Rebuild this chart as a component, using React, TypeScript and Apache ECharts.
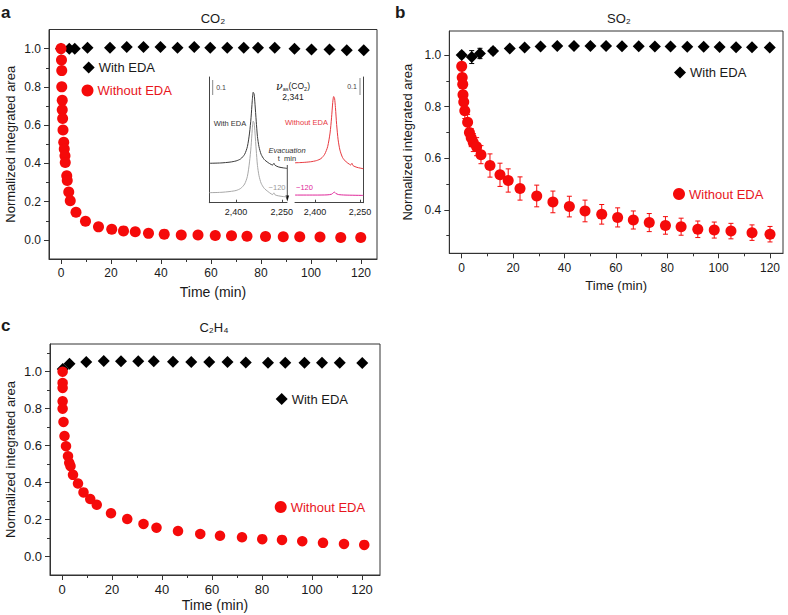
import React, { useEffect, useRef } from 'react';
import * as echarts from 'echarts';

const FONT = '"Liberation Sans", Arial, Helvetica, sans-serif';

// ---------- Panel a: CO2 ----------
const co2WithEDA: number[][] = [[0, 1.0], [3.3, 1.0], [5.5, 1.0], [10.6, 1.005], [19.6, 1.005], [26.3, 1.008], [33, 1.008], [39.8, 1.008], [46.6, 1.005], [53.3, 1.008], [59.7, 1.005], [66.5, 1.005], [73.1, 1.005], [78.8, 1.005], [85.5, 1.005], [93.4, 1.0], [100.2, 0.996], [107.4, 0.996], [114.3, 0.991], [121.1, 0.991]];
const co2WithoutEDA: number[][] = [[0, 1.0], [0.2, 0.94], [0.3, 0.885], [0.3, 0.8], [0.5, 0.73], [0.5, 0.68], [0.65, 0.635], [0.8, 0.575], [1.1, 0.51], [1.3, 0.475], [1.6, 0.44], [1.7, 0.405], [2.3, 0.335], [2.5, 0.31], [3.1, 0.25], [3.7, 0.205], [6, 0.145], [9.8, 0.097], [15, 0.068], [20.3, 0.055], [25, 0.047], [29.7, 0.042], [35, 0.034], [41.3, 0.03], [48.1, 0.026], [54.8, 0.025], [61.7, 0.023], [68.2, 0.021], [74.4, 0.019], [81.8, 0.018], [88.9, 0.016], [95.5, 0.016], [103.6, 0.015], [111.9, 0.013], [119.9, 0.013]];

// ---------- Panel b: SO2 ----------
const so2WithEDA: number[][] = [[0, 1.0], [3.9, 0.992], [7.1, 1.006], [12.2, 1.016], [18.7, 1.025], [24.5, 1.029], [30.7, 1.033], [37.2, 1.035], [43.7, 1.035], [50.1, 1.035], [56.2, 1.035], [62.4, 1.034], [68.9, 1.034], [75.2, 1.033], [81.3, 1.033], [87.8, 1.032], [94.2, 1.032], [100.4, 1.031], [106.8, 1.03], [113, 1.03], [119.9, 1.029]];
const so2WithEDAErr: number[] = [0.012, 0.025, 0.02, 0.012, 0.008, 0.006, 0.005, 0.005, 0.005, 0.005, 0.005, 0.005, 0.005, 0.005, 0.005, 0.005, 0.005, 0.005, 0.005, 0.005, 0.005];
const so2WithoutEDA: number[][] = [[0, 0.956], [0.2, 0.913], [0.4, 0.887], [0.5, 0.846], [0.8, 0.818], [1.2, 0.784], [2.3, 0.74], [3.0, 0.7], [3.7, 0.68], [4.5, 0.661], [5.8, 0.645], [7.5, 0.614], [11.0, 0.572], [14.9, 0.536], [18.1, 0.514], [22.7, 0.483], [29.2, 0.454], [35.5, 0.431], [41.9, 0.413], [48.0, 0.396], [54.5, 0.383], [60.7, 0.371], [66.8, 0.361], [73.0, 0.351], [79.3, 0.34], [85.4, 0.335], [91.9, 0.325], [98.3, 0.322], [104.8, 0.318], [113, 0.312], [120, 0.306]];
const so2WithoutEDAErr: number[] = [0.04, 0.03, 0.03, 0.03, 0.03, 0.03, 0.03, 0.03, 0.035, 0.035, 0.035, 0.035, 0.045, 0.045, 0.045, 0.045, 0.042, 0.042, 0.04, 0.042, 0.038, 0.037, 0.035, 0.035, 0.034, 0.033, 0.032, 0.031, 0.03, 0.03, 0.03];

// ---------- Panel c: C2H4 ----------
const c2h4WithEDA: number[][] = [[0.3, 1.015], [3.0, 1.043], [9.7, 1.052], [16.7, 1.058], [23.6, 1.056], [30.5, 1.056], [36.7, 1.056], [44.4, 1.054], [51.7, 1.052], [58.9, 1.052], [66.2, 1.052], [73.5, 1.05], [82.4, 1.049], [89.3, 1.049], [97.0, 1.049], [104.0, 1.049], [111.1, 1.048], [120.1, 1.047]];
const c2h4WithoutEDA: number[][] = [[0.25, 1.0], [0.25, 0.939], [0.25, 0.912], [0.25, 0.84], [0.25, 0.8], [0.6, 0.728], [1.0, 0.652], [1.6, 0.597], [2.4, 0.543], [2.9, 0.507], [3.4, 0.489], [4.4, 0.442], [6.4, 0.395], [8.6, 0.347], [11.3, 0.311], [13.9, 0.28], [19.6, 0.234], [26.1, 0.203], [32.6, 0.176], [37.8, 0.156], [46.4, 0.138], [55.3, 0.122], [63.2, 0.112], [72.0, 0.104], [80.1, 0.094], [88.0, 0.09], [96.1, 0.083], [104.4, 0.074], [112.8, 0.068], [120.9, 0.063]];

// ---------- Tick values ----------
const timeTicks: number[] = [0, 20, 40, 60, 80, 100, 120];
const timeMinorTicks: number[] = [10, 30, 50, 70, 90, 110];
const areaTicksAC: number[] = [0, 0.2, 0.4, 0.6, 0.8, 1.0];
const areaMinorA: number[] = [0.1, 0.3, 0.5, 0.7, 0.9];
const areaMinorC: number[] = [0.1, 0.3, 0.5, 0.7, 0.9, 1.1];
const areaTicksB: number[] = [0.4, 0.6, 0.8, 1.0];
const areaMinorB: number[] = [0.3, 0.5, 0.7, 0.9];
const insetTicks: number[] = [2400, 2250];

// ---------- Inset spectra (wavenumber, absorbance) ----------
const specWithEDA0: number[][] = [[2488, 0.232], [2450, 0.234], [2420, 0.239], [2400, 0.246], [2385, 0.258], [2372, 0.285], [2363, 0.33], [2356, 0.41], [2351, 0.5], [2347, 0.6], [2344, 0.65], [2341, 0.64], [2338, 0.58], [2334, 0.48], [2330, 0.39], [2325, 0.33], [2318, 0.285], [2308, 0.255], [2295, 0.236], [2285, 0.225], [2280, 0.222], [2276, 0.232], [2272, 0.22], [2260, 0.21], [2245, 0.205], [2233, 0.202]];
const specWithEDA120: number[][] = [[2488, 0.059], [2450, 0.061], [2420, 0.066], [2400, 0.072], [2385, 0.084], [2372, 0.11], [2363, 0.155], [2356, 0.24], [2351, 0.33], [2347, 0.43], [2344, 0.48], [2341, 0.47], [2338, 0.41], [2334, 0.31], [2330, 0.22], [2325, 0.16], [2318, 0.115], [2308, 0.085], [2295, 0.065], [2285, 0.052], [2280, 0.048], [2276, 0.058], [2272, 0.046], [2260, 0.04], [2245, 0.036], [2233, 0.034]];
const specWithoutEDA0: number[][] = [[2467, 0.235], [2440, 0.237], [2415, 0.241], [2395, 0.248], [2380, 0.26], [2368, 0.285], [2358, 0.33], [2350, 0.41], [2345, 0.5], [2341, 0.59], [2338, 0.625], [2335, 0.615], [2332, 0.56], [2328, 0.46], [2323, 0.37], [2317, 0.31], [2308, 0.265], [2296, 0.24], [2285, 0.226], [2281, 0.222], [2277, 0.232], [2273, 0.218], [2260, 0.208], [2250, 0.204], [2239, 0.2]];
const specWithoutEDA120: number[][] = [[2467, 0.045], [2400, 0.045], [2360, 0.046], [2345, 0.05], [2338, 0.06], [2335, 0.062], [2331, 0.055], [2322, 0.048], [2300, 0.045], [2239, 0.043]];

const AXIS_COLOR = '#333';
const RED = '#f50a0a';
const RED_TEXT = '#e8161d';

function mainX(gi: number, min: number, max: number, fs: number, nameFs: number, nameGap: number, margin: number) {
  return [
    {
      type: 'value', gridIndex: gi, position: 'bottom', min, max,
      axisLine: { show: true, onZero: false, lineStyle: { color: AXIS_COLOR, width: 1 } },
      axisTick: { show: true, customValues: timeTicks, length: 5, lineStyle: { color: AXIS_COLOR } },
      axisLabel: { customValues: timeTicks, fontSize: fs, color: '#1a1a1a', fontFamily: FONT, margin },
      splitLine: { show: false },
      name: 'Time (min)', nameLocation: 'middle', nameGap,
      nameTextStyle: { fontSize: nameFs, color: '#1a1a1a', fontFamily: FONT, fontWeight: 'normal' },
    },
    {
      type: 'value', gridIndex: gi, position: 'bottom', min, max,
      axisLine: { show: false, onZero: false },
      axisTick: { show: true, customValues: timeMinorTicks, length: 3, lineStyle: { color: AXIS_COLOR } },
      axisLabel: { show: false },
      splitLine: { show: false },
    },
  ];
}

function mainY(gi: number, min: number, max: number, major: number[], minor: number[], fs: number, nameGap: number) {
  return [
    {
      type: 'value', gridIndex: gi, position: 'left', min, max,
      axisLine: { show: true, onZero: false, lineStyle: { color: AXIS_COLOR, width: 1 } },
      axisTick: { show: true, customValues: major, length: 5, lineStyle: { color: AXIS_COLOR } },
      axisLabel: { customValues: major, fontSize: fs, color: '#1a1a1a', fontFamily: FONT, margin: 8, formatter: (v: number) => v.toFixed(1) },
      splitLine: { show: false },
      name: 'Normalized integrated area', nameLocation: 'middle', nameGap,
      nameTextStyle: { fontSize: 13, color: '#1a1a1a', fontFamily: FONT, fontWeight: 'normal' },
    },
    {
      type: 'value', gridIndex: gi, position: 'left', min, max,
      axisLine: { show: false, onZero: false },
      axisTick: { show: true, customValues: minor, length: 3, lineStyle: { color: AXIS_COLOR } },
      axisLabel: { show: false },
      splitLine: { show: false },
    },
  ];
}

function insetX(gi: number, min: number, max: number) {
  return {
    type: 'value', gridIndex: gi, position: 'bottom', inverse: true, min, max,
    axisLine: { show: true, onZero: false, lineStyle: { color: '#444', width: 1 } },
    axisTick: { show: true, customValues: insetTicks, inside: true, length: 3, lineStyle: { color: '#444' } },
    axisLabel: { customValues: insetTicks, fontSize: 9, color: '#1a1a1a', fontFamily: FONT, margin: 5, formatter: (v: number) => v.toLocaleString('en-US') },
    splitLine: { show: false },
  };
}

function insetY(gi: number, pos: string) {
  return {
    type: 'value', gridIndex: gi, position: pos, min: 0, max: 0.74,
    axisLine: { show: true, onZero: false, lineStyle: { color: '#444', width: 1 } },
    axisTick: { show: false }, axisLabel: { show: false }, splitLine: { show: false },
  };
}

function errorRender(color: string) {
  return (params: any, api: any) => {
    const x = api.value(0);
    const lo = api.value(1);
    const hi = api.value(2);
    const top = api.coord([x, hi]);
    const bot = api.coord([x, lo]);
    const cap = 2.5;
    const st = { stroke: color, lineWidth: 1 };
    return {
      type: 'group',
      children: [
        { type: 'line', shape: { x1: top[0], y1: top[1], x2: bot[0], y2: bot[1] }, style: st },
        { type: 'line', shape: { x1: top[0] - cap, y1: top[1], x2: top[0] + cap, y2: top[1] }, style: st },
        { type: 'line', shape: { x1: bot[0] - cap, y1: bot[1], x2: bot[0] + cap, y2: bot[1] }, style: st },
      ],
    };
  };
}

function txt(x: number, y: number, text: string, o: any = {}) {
  return {
    type: 'text', x, y, silent: true, z: 100,
    style: {
      text, fill: o.fill || '#1a1a1a', fontSize: o.size || 13, fontFamily: o.family || FONT,
      fontWeight: o.weight || 'normal', fontStyle: o.style || 'normal',
      align: o.align || 'center', verticalAlign: 'middle',
    },
  };
}

function legendAt(name: string, icon: string, left: number, top: number, color: string) {
  return {
    data: [{ name, icon }], left, top, padding: 0, itemWidth: 12, itemHeight: 12, itemGap: 0,
    selectedMode: false, orient: 'horizontal',
    itemStyle: { opacity: 1 },
    textStyle: { fontSize: 13, color, fontFamily: FONT, padding: [0, 0, 0, -1] },
  };
}

const dot = (color: string) => ({ color, opacity: 1 });

export default function App() {
  const ref = useRef<HTMLDivElement>(null);
  useEffect(() => {
    if (!ref.current) return;
    const chart = echarts.init(ref.current, null, { renderer: 'svg' });
    const errB = (pts: number[][], err: number[]) => pts.map((p, i) => [p[0], p[1] - err[i], p[1] + err[i]]);

    const option: any = {
      animation: false,
      backgroundColor: '#fff',
      textStyle: { fontFamily: FONT },
      grid: [
        { left: 49, top: 29.5, width: 328, height: 229.5, show: true, borderColor: AXIS_COLOR, borderWidth: 1 },
        { left: 449.3, top: 31, width: 333.7, height: 222.3, show: true, borderColor: AXIS_COLOR, borderWidth: 1 },
        { left: 50, top: 344, width: 330, height: 231, show: true, borderColor: AXIS_COLOR, borderWidth: 1 },
        { left: 209.3, top: 77, width: 77.7, height: 125.7 },
        { left: 295, top: 77, width: 68.3, height: 125.7 },
      ],
      xAxis: [
        ...mainX(0, -4.8, 126.4, 12, 14, 26, 8),
        ...mainX(1, -4.83, 125.06, 12, 13, 26, 9),
        ...mainX(2, -4.8, 127.2, 13, 14, 23, 8),
        insetX(3, 2233, 2488),
        insetX(4, 2239, 2467),
      ],
      yAxis: [
        ...mainY(0, -0.1, 1.1, areaTicksAC, areaMinorA, 12, 32),
        ...mainY(1, 0.232, 1.093, areaTicksB, areaMinorB, 12, 35),
        ...mainY(2, -0.1, 1.15, areaTicksAC, areaMinorC, 13, 33),
        insetY(3, 'left'),
        insetY(4, 'right'),
      ],
      legend: [
        legendAt('With EDA', 'diamond', 82.7, 61, '#1a1a1a'),
        legendAt('Without EDA', 'circle', 81.5, 84, RED_TEXT),
        legendAt('With EDA', 'diamond', 674, 66, '#1a1a1a'),
        legendAt('Without EDA', 'circle', 673, 187.5, RED_TEXT),
        legendAt('With EDA', 'diamond', 275.7, 392.5, '#1a1a1a'),
        legendAt('Without EDA', 'circle', 274.7, 500.5, RED_TEXT),
      ],
      series: [
        { name: 'With EDA', type: 'scatter', xAxisIndex: 0, yAxisIndex: 0, symbol: 'diamond', symbolSize: 12, itemStyle: dot('#000'), data: co2WithEDA, z: 2 },
        { name: 'Without EDA', type: 'scatter', xAxisIndex: 0, yAxisIndex: 0, symbol: 'circle', symbolSize: 11, itemStyle: dot(RED), data: co2WithoutEDA, z: 3 },

        { type: 'custom', xAxisIndex: 2, yAxisIndex: 2, renderItem: errorRender('#000'), encode: { x: 0, y: [1, 2] }, data: errB(so2WithEDA, so2WithEDAErr), z: 4 },
        { name: 'With EDA', type: 'scatter', xAxisIndex: 2, yAxisIndex: 2, symbol: 'diamond', symbolSize: 12, itemStyle: dot('#000'), data: so2WithEDA, z: 3 },
        { type: 'custom', xAxisIndex: 2, yAxisIndex: 2, renderItem: errorRender(RED), encode: { x: 0, y: [1, 2] }, data: errB(so2WithoutEDA, so2WithoutEDAErr), z: 2 },
        { name: 'Without EDA', type: 'scatter', xAxisIndex: 2, yAxisIndex: 2, symbol: 'circle', symbolSize: 11, itemStyle: dot(RED), data: so2WithoutEDA, z: 3 },

        { name: 'With EDA', type: 'scatter', xAxisIndex: 4, yAxisIndex: 4, symbol: 'diamond', symbolSize: 12, itemStyle: dot('#000'), data: c2h4WithEDA, z: 2 },
        { name: 'Without EDA', type: 'scatter', xAxisIndex: 4, yAxisIndex: 4, symbol: 'circle', symbolSize: 10.5, itemStyle: dot(RED), data: c2h4WithoutEDA, z: 3 },

        { type: 'line', xAxisIndex: 6, yAxisIndex: 6, data: specWithEDA0, showSymbol: false, smooth: 0.25, lineStyle: { color: '#3a3a3a', width: 1 } },
        { type: 'line', xAxisIndex: 6, yAxisIndex: 6, data: specWithEDA120, showSymbol: false, smooth: 0.25, lineStyle: { color: '#a8a8a8', width: 1 } },
        { type: 'line', xAxisIndex: 7, yAxisIndex: 7, data: specWithoutEDA0, showSymbol: false, smooth: 0.25, lineStyle: { color: '#e8393f', width: 1 } },
        { type: 'line', xAxisIndex: 7, yAxisIndex: 7, data: specWithoutEDA120, showSymbol: false, smooth: 0.25, lineStyle: { color: '#e0289a', width: 1 } },
      ],
      graphic: [
        txt(1, 12, 'a', { size: 17, weight: 'bold', align: 'left' }),
        txt(395, 12, 'b', { size: 17, weight: 'bold', align: 'left' }),
        txt(1, 325, 'c', { size: 17, weight: 'bold', align: 'left' }),
        txt(213, 18, 'CO₂', { size: 13 }),
        txt(619, 18, 'SO₂', { size: 13 }),
        txt(214, 327, 'C₂H₄', { size: 13 }),
        // inset annotations
        { type: 'line', silent: true, shape: { x1: 212.7, y1: 80, x2: 212.7, y2: 95 }, style: { stroke: '#888', lineWidth: 1 } },
        txt(221, 87, '0.1', { size: 7, fill: '#444' }),
        { type: 'line', silent: true, shape: { x1: 360, y1: 78, x2: 360, y2: 95 }, style: { stroke: '#888', lineWidth: 1 } },
        txt(352, 86, '0.1', { size: 7, fill: '#444' }),
        {
          type: 'text', x: 293, y: 86, silent: true, z: 100,
          style: {
            text: '{n|ν}{s|as}{m|(CO}{s|2}{m|)}', align: 'center', verticalAlign: 'middle', fill: '#1a1a1a',
            rich: {
              n: { fontFamily: '"DejaVu Serif", serif', fontStyle: 'italic', fontSize: 11, lineHeight: 12, fill: '#1a1a1a' },
              s: { fontFamily: FONT, fontSize: 5.5, lineHeight: 6, verticalAlign: 'bottom', padding: [3, 0, 0, 0], fill: '#1a1a1a' },
              m: { fontFamily: FONT, fontSize: 8.5, lineHeight: 12, fill: '#1a1a1a' },
            },
          },
        },
        txt(293, 96.5, '2,341', { size: 8.5 }),
        txt(230, 123, 'With EDA', { size: 7.5, fill: '#333' }),
        txt(306.5, 122.5, 'Without EDA', { size: 7.5, fill: '#e8393f' }),
        txt(287, 150, 'Evacuation', { size: 7.5, style: 'italic', fill: '#333' }),
        txt(287, 158.5, 't  min', { size: 7.5, fill: '#333' }),
        { type: 'line', silent: true, shape: { x1: 287.3, y1: 165, x2: 287.3, y2: 197 }, style: { stroke: '#222', lineWidth: 0.8 } },
        { type: 'polygon', silent: true, shape: { points: [[285.5, 195.5], [289.1, 195.5], [287.3, 201.5]] }, style: { fill: '#111' } },
        txt(285.5, 187, '−120', { size: 7.5, fill: '#9a9a9a', align: 'right' }),
        txt(296, 187.5, '−120', { size: 7.5, fill: '#e0289a', align: 'left' }),
      ],
    };
    chart.setOption(option);
    return () => chart.dispose();
  }, []);
  return <div ref={ref} style={{ position: 'fixed', left: 0, top: 0, width: 788, height: 615 }} />;
}
